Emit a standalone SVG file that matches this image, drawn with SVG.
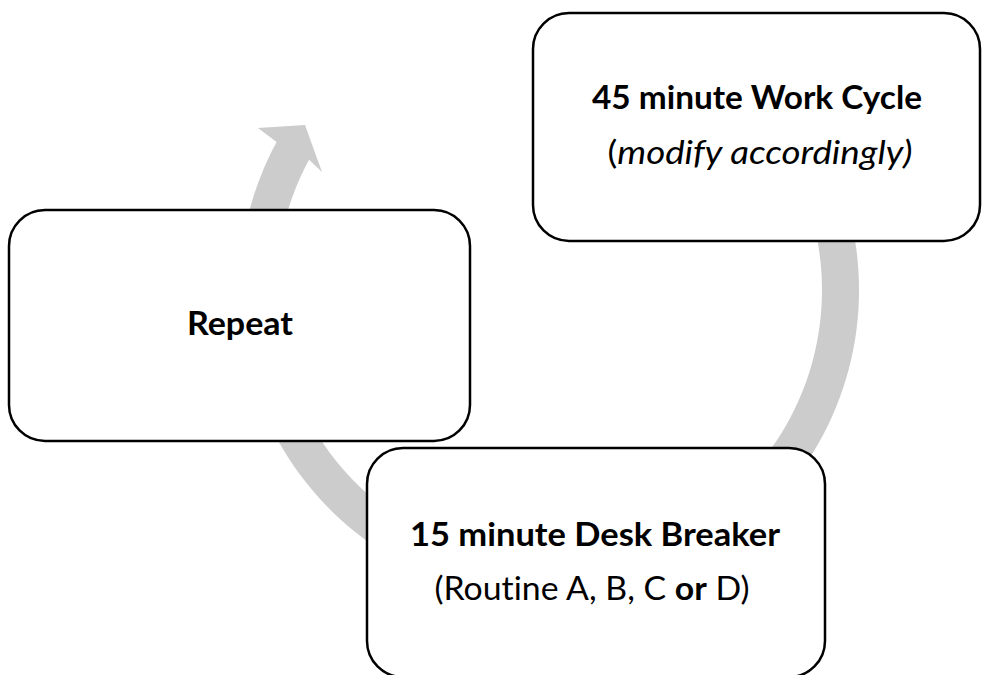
<svg xmlns="http://www.w3.org/2000/svg" width="982" height="675" viewBox="0 0 982 675">
<style>
.box{fill:#ffffff;stroke:#000000;stroke-width:2.5}
.arc{fill:#cccccc;stroke:none}
.t{font-family:Lato,"Open Sans","Liberation Sans",sans-serif;font-size:32px;fill:#000000;text-anchor:middle;font-variant-ligatures:none;font-feature-settings:"liga" 0}
.b{font-weight:bold}
.i{font-style:italic}
</style>
<rect width="982" height="675" fill="#ffffff"/>
<g id="connectors">
<path class="arc" d="M 817.5 135 A 310 310 0 1 1 276.6 142.1 L 258 128 L 305 125 L 322 172 L 309.1 159.7 A 273 273 0 1 0 785.4 153.5 Z"/>
</g>
<g id="node-work">
<rect class="box" x="533" y="13" width="447" height="228" rx="36" ry="36"/>
<text class="t b" x="757" y="109" textLength="330" lengthAdjust="spacingAndGlyphs">45 minute Work Cycle</text>
<text class="t" x="760" y="164" textLength="305" lengthAdjust="spacingAndGlyphs">(<tspan class="i">modify accordingly)</tspan></text>
</g>
<g id="node-repeat">
<rect class="box" x="9" y="210" width="461" height="231" rx="36" ry="36"/>
<text class="t b" x="240" y="335" textLength="106" lengthAdjust="spacingAndGlyphs">Repeat</text>
</g>
<g id="node-breaker">
<rect class="box" x="367" y="448" width="458" height="229" rx="36" ry="36"/>
<text class="t b" x="595" y="546" textLength="370" lengthAdjust="spacingAndGlyphs">15 minute Desk Breaker</text>
<text class="t" x="592" y="600" textLength="315" lengthAdjust="spacingAndGlyphs">(Routine A, B, C <tspan class="b">or</tspan> D)</text>
</g>
</svg>
